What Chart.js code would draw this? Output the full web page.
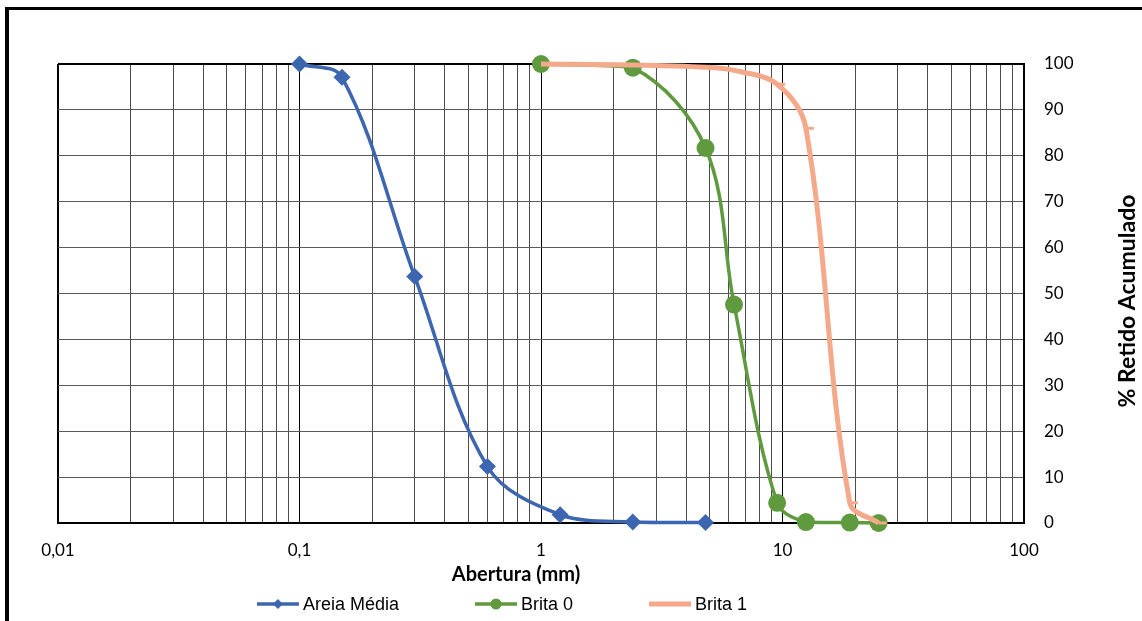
<!DOCTYPE html>
<html>
<head>
<meta charset="utf-8">
<title>Curva granulométrica</title>
<script src="https://cdn.jsdelivr.net/npm/chart.js@4.4.1/dist/chart.umd.min.js"></script>
<style>
  html, body { margin: 0; padding: 0; background: #fff; overflow: hidden; }
  #wrap { position: relative; width: 1142px; height: 621px; }
  #frame { position: absolute; left: 5px; top: 7px; right: -10px; bottom: -10px;
           border-left: 4px solid #000; border-top: 3px solid #000; }
  #chart { position: absolute; left: 0; top: 0; }
</style>
</head>
<body>
<div id="wrap">
  <div id="frame"></div>
  <canvas id="chart" width="1142" height="621"></canvas>
</div>
<script>
// sieve openings (mm) and % retained
const sieveAreia = [0.1, 0.15, 0.3, 0.6, 1.2, 2.4, 4.8];
const areiaMedia = [100, 97.1, 53.7, 12.3, 1.8, 0.2, 0.1];

const sieveBrita0 = [1, 2.4, 4.8, 6.3, 9.5, 12.5, 19, 25];
const brita0 = [100, 99.2, 81.7, 47.6, 4.4, 0.2, 0.1, 0];

const sieveBrita1 = [1, 2.4, 4.8, 6.3, 9.5, 12.5, 19, 25];
const brita1 = [100, 99.8, 99.3, 98.6, 95.6, 86.0, 4.4, 0];

const seriesNames = ['Areia Média', 'Brita 0', 'Brita 1'];
const xTitle = 'Abertura (mm)';
const yTitle = '% Retido Acumulado';
const xMin = 0.01, xMax = 100;
const yMin = 0, yMax = 100, yStep = 10;

const blue = '#3d66b0';
const green = '#5f9a3e';
const salmon = '#f4a98a';

function toPoints(xs, ys) {
    return xs.map((x, i) => ({ x: x, y: ys[i] }));
}

function isDecade(v) {
    const l = Math.log10(v);
    return Math.abs(l - Math.round(l)) < 1e-9;
}

// legend with line + marker, axis titles placed like the original
const sideBits = {
    id: 'sideBits',
    afterDraw(chart) {
        const ctx = chart.ctx;
        ctx.save();

        ctx.font = '18px "Liberation Sans", Arial, sans-serif';
        const lineLen = 42;
        const gap = 76;
        const items = chart.data.datasets.map(ds => ({
            ds: ds,
            w: lineLen + 4 + ctx.measureText(ds.label).width
        }));
        const total = items.reduce((s, it) => s + it.w, 0) + gap * (items.length - 1);
        let x = 502 - total / 2;
        const y = 604;
        items.forEach(it => {
            const ds = it.ds;
            ctx.strokeStyle = ds.borderColor;
            ctx.lineWidth = ds.borderWidth;
            ctx.lineCap = 'butt';
            ctx.beginPath();
            ctx.moveTo(x, y);
            ctx.lineTo(x + lineLen, y);
            ctx.stroke();
            const cx = x + lineLen / 2;
            ctx.fillStyle = ds.pointBackgroundColor;
            if (ds.pointStyle === 'rectRot') {
                ctx.beginPath();
                ctx.moveTo(cx - 5, y);
                ctx.lineTo(cx, y - 5);
                ctx.lineTo(cx + 5, y);
                ctx.lineTo(cx, y + 5);
                ctx.closePath();
                ctx.fill();
            } else if (ds.pointStyle === 'circle') {
                ctx.beginPath();
                ctx.arc(cx, y, 5.5, 0, Math.PI * 2);
                ctx.fill();
            }
            ctx.fillStyle = '#000';
            ctx.textAlign = 'left';
            ctx.textBaseline = 'middle';
            ctx.fillText(ds.label, x + lineLen + 4, y + 1);
            x += it.w + gap;
        });

        ctx.fillStyle = '#000';
        ctx.textAlign = 'center';
        ctx.textBaseline = 'middle';
        ctx.font = 'bold 20px Lato, sans-serif';
        ctx.fillText(xTitle, 516, 575);

        ctx.translate(1128, 301);
        ctx.rotate(-Math.PI / 2);
        ctx.font = 'bold 23px Lato, sans-serif';
        ctx.fillText(yTitle, 0, 0);

        ctx.restore();
    }
};

const ctx = document.getElementById('chart').getContext('2d');
new Chart(ctx, {
    type: 'scatter',
    data: {
        datasets: [
            {
                label: seriesNames[0],
                data: toPoints(sieveAreia, areiaMedia),
                showLine: true,
                borderColor: blue,
                borderWidth: 3.5,
                pointStyle: 'rectRot',
                pointRadius: 8.5,
                pointHoverRadius: 8.5,
                pointBackgroundColor: blue,
                pointBorderWidth: 0,
                tension: 0.35,
                clip: false,
                order: 3
            },
            {
                label: seriesNames[1],
                data: toPoints(sieveBrita0, brita0),
                showLine: true,
                borderColor: green,
                borderWidth: 3.5,
                pointStyle: 'circle',
                pointRadius: 9,
                pointHoverRadius: 9,
                pointBackgroundColor: green,
                pointBorderWidth: 0,
                tension: 0.35,
                clip: false,
                order: 2
            },
            {
                label: seriesNames[2],
                data: toPoints(sieveBrita1, brita1),
                showLine: true,
                borderColor: salmon,
                borderWidth: 5,
                pointStyle: 'dash',
                pointRadius: 8,
                pointHoverRadius: 8,
                pointBackgroundColor: salmon,
                pointBorderColor: salmon,
                pointBorderWidth: 3,
                tension: 0.35,
                clip: false,
                order: 1
            }
        ]
    },
    options: {
        responsive: false,
        animation: false,
        layout: { padding: { left: 58, top: 64, right: 0, bottom: 32 } },
        plugins: {
            legend: { display: false },
            tooltip: { enabled: false }
        },
        scales: {
            x: {
                type: 'logarithmic',
                position: 'bottom',
                min: xMin,
                max: xMax,
                afterBuildTicks: scale => {
                    const ticks = [];
                    for (let d = -2; d < 2; d++) {
                        for (let m = 1; m < 10; m++) {
                            ticks.push({ value: Number((m * Math.pow(10, d)).toPrecision(3)) });
                        }
                    }
                    ticks.push({ value: xMax });
                    scale.ticks = ticks;
                },
                afterFit: scale => { scale.height = 66; },
                ticks: {
                    autoSkip: false,
                    maxRotation: 0,
                    padding: 17,
                    color: '#000',
                    font: { family: 'Lato, sans-serif', size: 17 },
                    callback: v => isDecade(v) ? String(v).replace('.', ',') : ''
                },
                grid: {
                    drawTicks: false,
                    color: c => (c.tick && isDecade(c.tick.value)) ? '#000' : '#4d4d4d',
                    lineWidth: c => (c.tick && c.tick.value === xMin) ? 2 : 1
                },
                border: { display: true, color: '#000', width: 2 },
                title: { display: false, text: xTitle }
            },
            y: {
                position: 'right',
                min: yMin,
                max: yMax,
                afterFit: scale => { scale.width = 118; },
                ticks: {
                    stepSize: yStep,
                    padding: 20,
                    color: '#000',
                    font: { family: 'Lato, sans-serif', size: 17 }
                },
                grid: {
                    drawTicks: false,
                    color: c => (c.tick && c.tick.value === yMax) ? '#000' : '#595959',
                    lineWidth: c => (c.tick && c.tick.value === yMax) ? 2 : 1
                },
                border: { display: true, color: '#000', width: 2 },
                title: { display: false, text: yTitle }
            }
        }
    },
    plugins: [sideBits]
});
</script>
</body>
</html>
